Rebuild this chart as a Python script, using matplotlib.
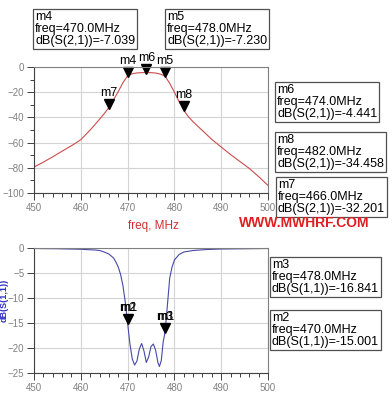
import matplotlib
matplotlib.use('Agg')
import matplotlib.pyplot as plt
import matplotlib.transforms as mtransforms
from matplotlib.ticker import MultipleLocator

plt.rcParams['font.family'] = ['Liberation Sans', 'DejaVu Sans']

# dB(S(2,1))
s21_freq = [450, 452, 454, 456, 458, 460, 462, 463, 464, 465, 466, 467, 468, 469,
            470, 471, 472, 473, 474, 475, 476, 477, 478, 479, 480, 481, 482, 483,
            484, 485, 486, 488, 490, 492, 494, 496, 498, 500]
s21_db = [-79.4, -75.5, -71.3, -66.8, -62.5, -57.7, -50.0, -45.8, -41.5, -37.0, -32.2,
          -26.0, -19.5, -12.5, -7.04, -5.3, -4.7, -4.5, -4.44, -4.5, -4.8, -5.6, -7.23,
          -13.0, -20.0, -27.5, -34.46, -39.5, -43.5, -47.0, -50.5, -57.5, -63.5, -69.5,
          -75.0, -80.5, -87.0, -94.0]

# dB(S(1,1))
s11_freq = [450, 455, 460, 463, 464, 465, 466, 467, 467.5, 468, 468.5, 469, 469.5, 470,
            470.5, 471, 471.5, 472, 472.5, 473, 473.5, 474, 474.5, 475, 475.5, 476, 476.5,
            476.8, 477.2, 477.6, 478, 478.5, 479, 479.5, 480, 481, 482, 484, 487, 490,
            495, 500]
s11_db = [-0.1, -0.15, -0.25, -0.4, -0.5, -0.8, -1.2, -2.0, -2.8, -3.8, -5.3, -7.5, -10.8,
          -15.0, -19.2, -22.2, -23.4, -22.6, -20.2, -19.1, -20.6, -22.9, -21.8, -19.7,
          -19.2, -20.5, -23.0, -23.7, -22.5, -18.8, -16.84, -11.5, -6.0, -3.8, -2.4, -1.3,
          -0.8, -0.5, -0.3, -0.2, -0.15, -0.1]

# markers: name, freq, value
s21_markers = [('m7', 466, -32.201), ('m4', 470, -7.039), ('m6', 474, -4.441),
               ('m5', 478, -7.230), ('m8', 482, -34.458)]
s11_markers = [(['m2', 'm1'], 470, -15.001), (['m3', 'm1'], 478, -16.841)]

W, H = 392, 400
fig = plt.figure(figsize=(W / 100, H / 100), dpi=100)
fig.patch.set_facecolor('white')

def px_axes(l, t, r, b):
    return fig.add_axes([l / W, 1 - b / H, (r - l) / W, (b - t) / H])

ax1 = px_axes(34, 67, 268, 193)
ax2 = px_axes(34, 248, 268, 373)

tick_col = '#808080'
for ax in (ax1, ax2):
    ax.set_xlim(450, 500)
    ax.xaxis.set_major_locator(MultipleLocator(10))
    ax.xaxis.set_minor_locator(MultipleLocator(2))
    ax.grid(True, which='major', color='#d4d4d4', lw=0.8)
    ax.set_axisbelow(True)
    for s in ax.spines.values():
        s.set_color('#808080')
        s.set_linewidth(0.8)
    ax.spines['left'].set_color('#404040')
    ax.spines['bottom'].set_color('#404040')
    ax.tick_params(which='major', direction='out', length=5, width=0.7,
                   color='#404040', labelsize=7, labelcolor=tick_col, pad=2)
    ax.tick_params(which='minor', direction='out', length=3, width=0.7, color='#404040')
    ax.tick_params(top=False, right=False)

ax1.set_ylim(-100, 0)
ax1.yaxis.set_major_locator(MultipleLocator(20))
ax1.yaxis.set_minor_locator(MultipleLocator(10))
ax2.set_ylim(-25, 0)
ax2.yaxis.set_major_locator(MultipleLocator(5))

ax1.plot(s21_freq, s21_db, color='#cc4c4c', lw=0.8)
ax2.plot(s11_freq, s11_db, color='#4848a8', lw=0.8)

def draw_marker(ax, names, f, v):
    tr = mtransforms.offset_copy(ax.transData, fig=fig, x=0, y=4, units='dots')
    ax.plot([f], [v], marker='v', color='black', ms=6.5, transform=tr, clip_on=False)
    for k, nm in enumerate(names):
        ax.annotate(nm, (f, v), xytext=(0.8 * k, 6.5), textcoords='offset points',
                    ha='center', va='bottom', fontsize=9, color='black',
                    annotation_clip=False)

for nm, f, v in s21_markers:
    draw_marker(ax1, [nm], f, v)
for nms, f, v in s11_markers:
    draw_marker(ax2, nms, f, v)

def readout(left, top, name, freq, label, value):
    txt = '%s\nfreq=%.1fMHz\n%s=%.3f' % (name, freq, label, value)
    fig.text((left + 2) / W, 1 - (top + 2) / H, txt, ha='left', va='top',
             fontsize=9, linespacing=1.02,
             bbox=dict(boxstyle='square,pad=0.15', fc='white', ec='#505050', lw=0.9))

readout(33, 9, 'm4', 470.0, 'dB(S(2,1))', -7.039)
readout(165, 9, 'm5', 478.0, 'dB(S(2,1))', -7.230)
readout(275, 82, 'm6', 474.0, 'dB(S(2,1))', -4.441)
readout(275, 132, 'm8', 482.0, 'dB(S(2,1))', -34.458)
readout(276, 177, 'm7', 466.0, 'dB(S(2,1))', -32.201)
readout(270, 257, 'm3', 478.0, 'dB(S(1,1))', -16.841)
readout(270, 310, 'm2', 470.0, 'dB(S(1,1))', -15.001)

fig.text(153 / W, 1 - 226 / H, 'freq, MHz', color='#d03030', fontsize=8.5,
         ha='center', va='center')
fig.text(304 / W, 1 - 223 / H, 'WWW.MWHRF.COM', color='#e02020', fontsize=10,
         fontweight='bold', ha='center', va='center')
fig.text(4 / W, 1 - 300 / H, 'dB(S(1,1))', color='#3030c0', fontsize=6.5,
         fontweight='bold', rotation=90, ha='center', va='center')

fig.savefig('out.png', dpi=100)
